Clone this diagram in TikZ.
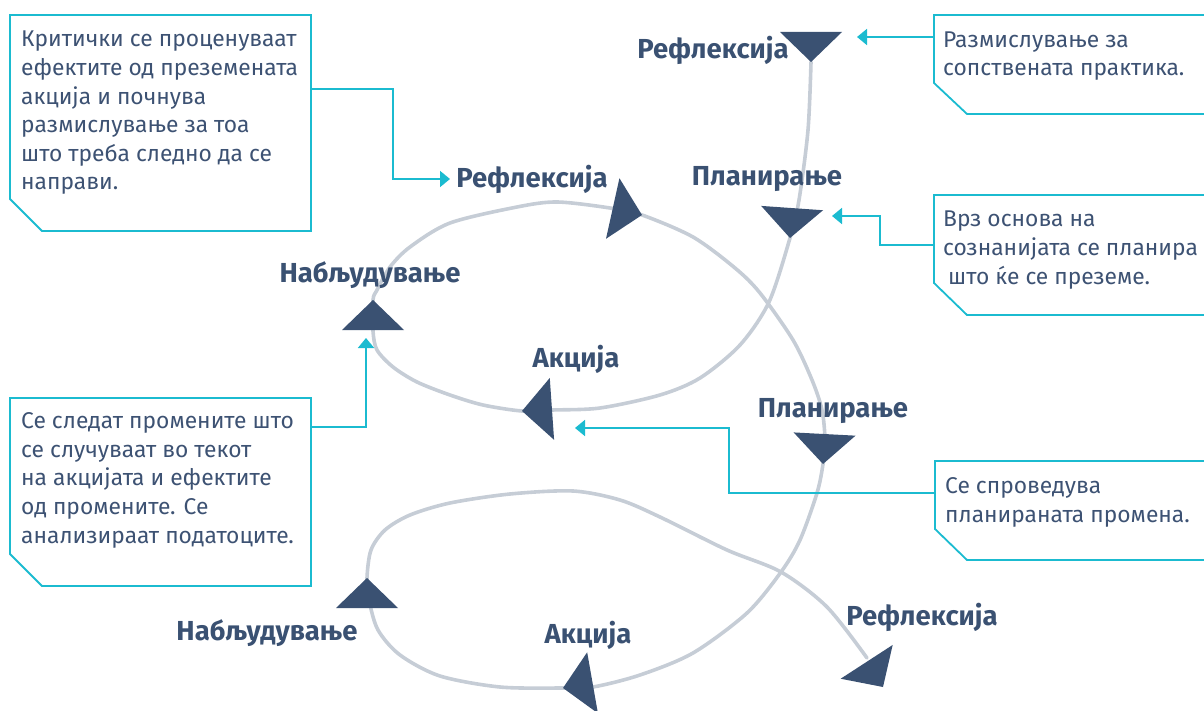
\documentclass[tikz,border=0pt]{standalone}
\usepackage{fontspec}
\setmainfont{Fira Sans}
\usepackage{tikz}
\usetikzlibrary{arrows.meta,calc}

\definecolor{linecyan}{HTML}{1BBBD0}
\definecolor{headblue}{HTML}{3A5172}
\definecolor{textblue}{HTML}{3D5273}
\definecolor{spiralgray}{HTML}{C6CDD6}

\newcommand{\notefont}{\fontsize{22.8}{28.6}\selectfont}
\newcommand{\stagefont}{\bfseries\fontsize{27.5}{30}\selectfont}

\begin{document}
\begin{tikzpicture}[x=1pt,y=-1pt,
		stage/.style={text=headblue,font=\stagefont,inner sep=0pt,anchor=base},
		note/.style={text=textblue,font=\notefont,align=left,anchor=base west,inner sep=0pt},
		frame/.style={draw=linecyan,line width=1.8pt},
		link/.style={draw=linecyan,line width=1.8pt,-{Triangle[length=10pt,width=16pt]}},
		spiral/.style={draw=spiralgray,line width=3.6pt,line cap=round},
		head/.style={fill=headblue}]

	\useasboundingbox (0,0) rectangle (1204,711);

	% the spiral, top to bottom
	\draw[spiral] plot[smooth,tension=0.5] coordinates {
		(811,62) (808,130) (799,200) (790,238) (769,302) (740,345) (700,378)
		(660,395) (600,408) (552,410) (522,411) (483,405) (450,395) (417,382)
		(393,367) (377,350) (373,331) (373,300) (377,290) (390,267) (410,247)
		(450,223) (517,207) (557,202) (610,208) (642,215) (693,237) (735,268)
		(760,293) (793,340) (812,380) (822,410) (825,440) (823,464) (817,493)
		(800,540) (781,572) (747,613) (693,653) (640,675) (593,687) (563,688)
		(500,687) (440,676) (400,655) (378,630) (369,600) (367,578) (371,550)
		(385,530) (410,515) (450,503) (510,494) (573,491) (620,500) (660,517)
		(727,550) (781,572) (827,607) (867,658)};

	% arrow heads on the spiral
	\foreach \x/\y/\a in {811/62/90, 790/238/94, 522/411/176, 373/300/-90,
		642/215/12.5, 823/464/93, 563/688/170, 367/578/-90, 883/687/57}
		\fill[head,shift={(\x,\y)},rotate=-\a] (0,0) -- (-30,31) -- (-30,-31) -- cycle;

	% stages
	\node[stage] (refl1) at (713,59) {Рефлексија};
	\node[stage] (plan1) at (767,186) {Планирање};
	\node[stage] (refl2) at (532,188) {Рефлексија};
	\node[stage] (obs1) at (370,283) {Набљудување};
	\node[stage] (act1) at (576,367) {Акција};
	\node[stage] (plan2) at (833,417) {Планирање};
	\node[stage] (obs2) at (267,640) {Набљудување};
	\node[stage] (act2) at (588,643) {Акција};
	\node[stage] (refl3) at (922,625) {Рефлексија};

	% notes (placed by the baseline of their last line)
	\draw[frame] (10,15) -- (311,15) -- (311,231) -- (42,231) -- (10,199) -- cycle;
	\node[note] (critique) at (21,190) {Критички се проценуваат\\ефектите од преземената\\акција и почнува\\размислување за тоа\\што треба следно да се\\направи.};
	\draw[frame] (1204,15) -- (934,15) -- (934,83) -- (967,114) -- (1204,114);
	\node[note] (practice) at (943,76) {Размислување за\\сопствената практика.};
	\draw[frame] (1204,195) -- (934,195) -- (934,283) -- (967,315) -- (1204,315);
	\node[note] (insight) at (943,284) {Врз основа на\\сознанијата се планира\\\hspace{5pt}што ќе се преземе.};
	\draw[frame] (10,398) -- (311,398) -- (311,586) -- (42,586) -- (10,554) -- cycle;
	\node[note] (tracking) at (21,543) {Се следат промените што\\се случуваат во текот\\на акцијата и ефектите\\од промените. Се\\анализираат податоците.};
	\draw[frame] (1204,461) -- (935,461) -- (935,529) -- (967,560) -- (1204,560);
	\node[note] (doing) at (945,522) {Се спроведува\\планираната промена.};

	% links from the notes
	\coordinate (critique out) at (311,89);
	\coordinate (refl2 in) at (450,179);
	\coordinate (practice out) at (934,37);
	\coordinate (refl1 in) at (857,37);
	\coordinate (insight out) at (934,245);
	\coordinate (plan1 in) at (832,216);
	\coordinate (tracking out) at (311,427);
	\coordinate (obs1 in) at (366,338);
	\coordinate (doing out) at (935,493);
	\coordinate (act1 in) at (575,428);

	\draw[link] (critique out) -- ++(82,0) |- (refl2 in);
	\draw[link] (practice out) -- (refl1 in);
	\draw[link] (insight out) -- ++(-54,0) |- (plan1 in);
	\draw[link] (tracking out) -| (obs1 in);
	\draw[link] (doing out) -- ++(-206,0) |- (act1 in);
\end{tikzpicture}
\end{document}
